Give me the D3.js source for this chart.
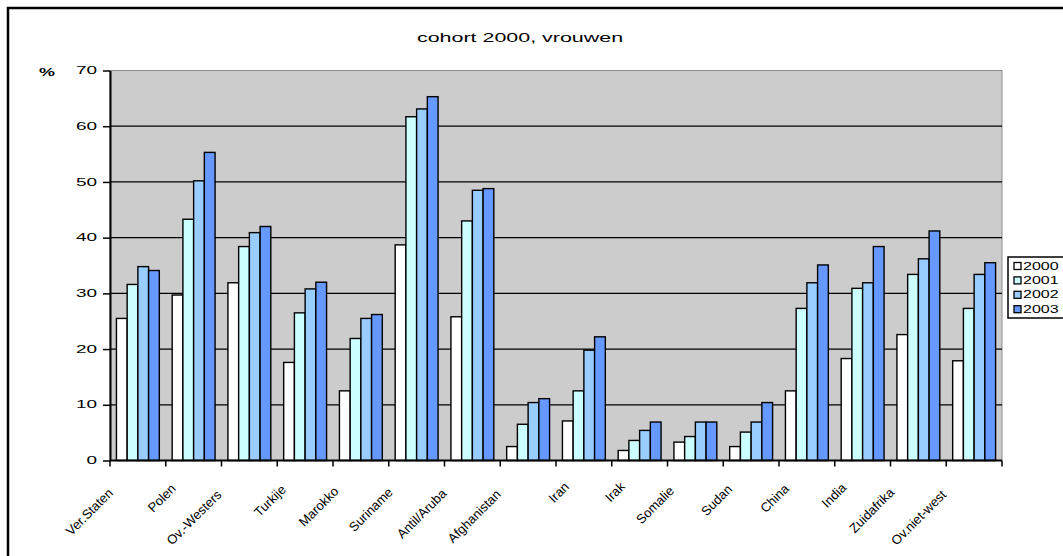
<!DOCTYPE html>
<html lang="en">
<head>
  <meta charset="UTF-8">
  <title>cohort 2000, vrouwen</title>
  <script src="https://d3js.org/d3.v7.min.js"></script>
  <style>
    * { margin: 0; padding: 0; }
    body { background: #fff; }
    svg { display: block; font-family: Arial, "Liberation Sans", sans-serif; }
  </style>
</head>
<body>
  <div class="chart"></div>
  <script>
    // data
    var categories = ['Ver.Staten', 'Polen', 'Ov.-Westers', 'Turkije', 'Marokko', 'Suriname', 'Antil/Aruba',
      'Afghanistan', 'Iran', 'Irak', 'Somalie', 'Sudan', 'China', 'India', 'Zuidafrika', 'Ov.niet-west'];
    var years = ['2000', '2001', '2002', '2003'];
    var v2000 = [25.5, 29.7, 31.9, 17.6, 12.5, 38.7, 25.8, 2.5, 7.1, 1.8, 3.3, 2.5, 12.5, 18.3, 22.6, 17.9];
    var v2001 = [31.6, 43.3, 38.4, 26.5, 21.9, 61.7, 43.0, 6.5, 12.5, 3.6, 4.3, 5.1, 27.3, 30.9, 33.4, 27.3];
    var v2002 = [34.8, 50.2, 40.9, 30.8, 25.5, 63.1, 48.5, 10.4, 19.8, 5.4, 6.9, 6.9, 31.9, 31.9, 36.2, 33.4];
    var v2003 = [34.1, 55.3, 42.0, 32.0, 26.2, 65.3, 48.8, 11.1, 22.2, 6.9, 6.9, 10.4, 35.1, 38.4, 41.2, 35.5];
    var yTicks = [0, 10, 20, 30, 40, 50, 60, 70];
    var colors = ['#ffffff', '#ccffff', '#99ccff', '#6699ff'];

    var width = 1063, height = 556;
    var plotLeft = 110, plotRight = 1002, plotTop = 70.5, plotBottom = 460.5;

    var svg = d3.select('.chart').append('svg')
      .attr('width', width)
      .attr('height', height);

    // chart border (cut off on the right and bottom)
    svg.append('rect')
      .attr('x', 8).attr('y', 8)
      .attr('width', 1200).attr('height', 700)
      .attr('fill', '#fff')
      .attr('stroke', '#000')
      .attr('stroke-width', 2.5);

    var xScale = d3.scaleBand()
      .domain(categories)
      .range([plotLeft, plotRight]);
    var inner = d3.scaleBand()
      .domain(years)
      .range([0, xScale.bandwidth()])
      .paddingOuter(0.6);
    var yScale = d3.scaleLinear()
      .domain([0, 70])
      .range([plotBottom, plotTop]);

    // plot area
    svg.append('rect')
      .attr('x', plotLeft).attr('y', plotTop)
      .attr('width', plotRight - plotLeft).attr('height', plotBottom - plotTop)
      .attr('fill', '#cccccc')
      .attr('stroke', '#8c8c8c')
      .attr('stroke-width', 1);

    // gridlines
    svg.append('g').selectAll('line')
      .data(yTicks.filter(function (d) { return d > 0 && d < 70; }))
      .enter().append('line')
      .attr('x1', plotLeft).attr('x2', plotRight)
      .attr('y1', function (d) { return yScale(d); })
      .attr('y2', function (d) { return yScale(d); })
      .attr('stroke', '#000')
      .attr('stroke-width', 1.3);

    // bars
    var series = [v2000, v2001, v2002, v2003];
    series.forEach(function (vals, s) {
      svg.append('g').selectAll('rect')
        .data(vals)
        .enter().append('rect')
        .attr('x', function (d, i) { return xScale(categories[i]) + inner(years[s]); })
        .attr('y', function (d) { return yScale(d); })
        .attr('width', inner.bandwidth())
        .attr('height', function (d) { return yScale(0) - yScale(d); })
        .attr('fill', colors[s])
        .attr('stroke', '#000')
        .attr('stroke-width', 1.4);
    });

    // y axis
    var yAxis = svg.append('g')
      .attr('transform', 'translate(' + plotLeft + ',0)')
      .call(d3.axisLeft(yScale).tickValues(yTicks).tickSize(7).tickSizeOuter(0));
    yAxis.select('.domain').attr('stroke-width', 2);
    yAxis.selectAll('.tick line').attr('stroke-width', 1.5);
    yAxis.selectAll('.tick text')
      .attr('x', -13 / 1.9)
      .attr('transform', 'scale(1.9,1)')
      .attr('font-size', 10)
      .attr('font-family', 'Arial, "Liberation Sans", sans-serif')
      .attr('fill', '#000');

    // x axis line + category boundary ticks
    var xg = svg.append('g');
    xg.append('line')
      .attr('x1', plotLeft).attr('x2', plotRight)
      .attr('y1', plotBottom).attr('y2', plotBottom)
      .attr('stroke', '#000').attr('stroke-width', 2);
    var bounds = categories.map(function (c) { return xScale(c); }).concat([plotRight]);
    xg.selectAll('.xt')
      .data(bounds)
      .enter().append('line')
      .attr('class', 'xt')
      .attr('x1', function (d) { return d; }).attr('x2', function (d) { return d; })
      .attr('y1', plotBottom).attr('y2', plotBottom + 6)
      .attr('stroke', '#000').attr('stroke-width', 1.5);

    // rotated category labels, shifted like the original's placement
    var labels = xg.selectAll('.xl')
      .data(categories)
      .enter().append('text')
      .attr('class', 'xl')
      .attr('font-size', 13)
      .attr('text-anchor', 'end')
      .attr('fill', '#000')
      .text(function (d) { return d; });
    labels.attr('transform', function (d) {
      var len = this.getComputedTextLength();
      var dx = len / Math.SQRT2;
      var cx = xScale(d) + xScale.bandwidth() / 2;
      var x = cx - 8 - 0.38 * dx;
      var y = 484 + 0.23 * dx;
      return 'translate(' + x + ',' + y + ') rotate(-45)';
    });

    // % label
    svg.append('text')
      .attr('transform', 'translate(47,76) scale(1.8,1)')
      .attr('text-anchor', 'middle')
      .attr('font-size', 10)
      .attr('font-weight', 'bold')
      .text('%');

    // title
    svg.append('text')
      .attr('transform', 'translate(520,42) scale(1.65,1)')
      .attr('text-anchor', 'middle')
      .attr('font-size', 13)
      .text('cohort 2000, vrouwen');

    // legend
    var lg = svg.append('g').attr('transform', 'translate(1008,257)');
    lg.append('rect')
      .attr('width', 90).attr('height', 61)
      .attr('fill', '#fff')
      .attr('stroke', '#000')
      .attr('stroke-width', 1.5);
    var items = lg.selectAll('.li')
      .data(years)
      .enter().append('g')
      .attr('transform', function (d, i) { return 'translate(0,' + (9 + i * 14.4) + ')'; });
    items.append('rect')
      .attr('x', 6).attr('y', -3.5)
      .attr('width', 7).attr('height', 7)
      .attr('fill', function (d, i) { return colors[i]; })
      .attr('stroke', '#000')
      .attr('stroke-width', 1.3);
    items.append('text')
      .attr('transform', 'translate(15,0) scale(1.6,1)')
      .attr('dy', '0.35em')
      .attr('font-size', 10)
      .text(function (d) { return d; });
  </script>
</body>
</html>
